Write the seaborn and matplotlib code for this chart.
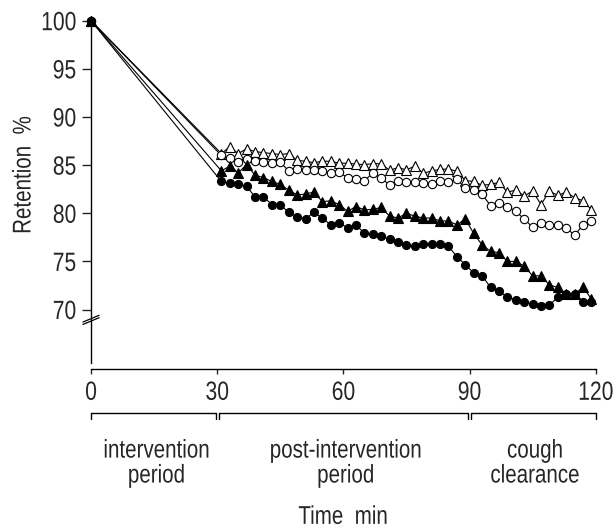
import matplotlib
matplotlib.use('Agg')
import matplotlib.pyplot as plt
from matplotlib.patheffects import AbstractPathEffect
from matplotlib.transforms import Affine2D
import seaborn as sns

# Time points (min) and retention (%) for the four groups
minutes = [0] + list(range(31, 121, 2))

open_triangles = [100, 86.2, 86.9, 86.2, 86.7, 86.4, 86.3, 86.2, 86.1, 86.2, 85.5,
                  85.4, 85.25, 85.4, 85.4, 85.2, 85.2, 85.1, 85.05, 85.15, 85.15,
                  84.45, 84.75, 84.5, 84.9, 84.15, 84.4, 84.55, 84.6, 84.35, 83.4,
                  83.3, 82.9, 83.0, 83.2, 82.2, 82.4, 81.8, 82.3, 80.9, 82.3,
                  81.85, 82.2, 81.6, 81.3, 80.35]
open_circles = [100, 86.0, 85.7, 85.3, 85.6, 85.4, 85.3, 85.25, 85.3, 84.4, 84.6,
                84.5, 84.5, 84.35, 84.2, 84.25, 83.7, 83.6, 83.4, 84.15, 83.7,
                82.9, 83.35, 83.25, 83.2, 83.15, 83.0, 83.4, 83.2, 83.55, 82.6,
                82.4, 81.95, 80.8, 81.05, 80.7, 80.2, 79.4, 78.55, 78.95, 78.8,
                78.8, 78.5, 77.7, 78.8, 79.15]
filled_triangles = [100, 84.4, 84.9, 84.2, 85.05, 83.95, 83.7, 83.3, 83.0, 82.4, 81.9,
                    82.0, 82.2, 81.2, 81.3, 80.9, 80.2, 80.7, 80.35, 80.4, 80.6,
                    79.7, 79.5, 80.0, 79.7, 79.5, 79.5, 79.2, 79.2, 78.8, 79.4,
                    77.9, 76.7, 76.05, 75.9, 75.0, 75.0, 74.5, 73.5, 73.5, 72.55,
                    72.3, 71.6, 71.6, 72.3, 71.1]
filled_circles = [100, 83.3, 83.1, 83.0, 82.8, 81.7, 81.7, 80.9, 80.85, 80.1, 79.6,
                  79.4, 80.1, 79.5, 78.8, 79.0, 78.5, 78.75, 77.95, 77.8, 77.6,
                  77.3, 77.0, 76.75, 76.55, 76.8, 76.85, 76.8, 76.55, 75.5, 74.65,
                  73.8, 73.5, 72.3, 71.9, 71.3, 71.0, 70.8, 70.55, 70.4, 70.45,
                  71.3, 71.6, 71.6, 70.8, 70.8]

y_ticks = [70, 75, 80, 85, 90, 95, 100]
x_ticks = [0, 30, 60, 90, 120]
periods = [(0, 30, 'intervention\nperiod'),
           (30, 90, 'post-intervention\nperiod'),
           (90, 120, 'cough\nclearance')]


# The reference uses a condensed face; squeeze the glyphs horizontally
class Squeeze(AbstractPathEffect):
    def __init__(self, sx=0.8, anchor=0.5):
        super().__init__()
        self.sx = sx
        self.anchor = anchor  # 0.5 = keep centre, 1.0 = keep right edge

    def draw_path(self, renderer, gc, tpath, affine, rgbFace=None):
        if len(tpath.vertices):
            ext = tpath.get_extents()
            px = ext.x0 + self.anchor * ext.width
            affine = Affine2D().translate(-px, 0).scale(self.sx, 1).translate(px, 0) + affine
        renderer.draw_path(gc, tpath, affine, rgbFace)


SQ = 0.8
centre_fx = [Squeeze(SQ, 0.5)]

sns.set_theme(style='white')
plt.rcParams['font.family'] = ['Liberation Sans', 'DejaVu Sans']
plt.rcParams['axes.edgecolor'] = 'black'
plt.rcParams['axes.linewidth'] = 1.0

fig = plt.figure(figsize=(6.15, 5.28), dpi=100)
ax = fig.add_axes([0.148, 0.3011, 0.8206, 0.6597])

# Draw the four series, open ones first
series = [
    (open_triangles, '^', 'white', 6.5),
    (open_circles, 'o', 'white', 6.0),
    (filled_triangles, '^', 'black', 6.5),
    (filled_circles, 'o', 'black', 5.8),
]
for values, marker, face, size in series:
    sns.lineplot(x=minutes, y=values, ax=ax, color='black', linewidth=0.8,
                 marker=marker, markersize=size, markerfacecolor=face,
                 markeredgecolor='black', markeredgewidth=0.8,
                 estimator=None, sort=False, clip_on=False)

ax.set_xlim(0, 120)
ax.set_ylim(63.82, 100)
ax.set_yticks(y_ticks)
ax.set_xticks(x_ticks)
ax.tick_params(axis='y', direction='out', length=6.5, width=1, pad=4, labelsize=19, left=True)
ax.tick_params(axis='x', direction='out', length=3.5, width=1, pad=5, labelsize=19, bottom=True)
for lbl in ax.get_yticklabels():
    lbl.set_path_effects([Squeeze(SQ, 1.0)])
for lbl in ax.get_xticklabels():
    lbl.set_path_effects(centre_fx)

sns.despine(ax=ax)
ax.spines['left'].set_bounds(64.45, 100)

# Axis break marks on the y axis
trans_y = ax.get_yaxis_transform()
for off in [0, 0.25]:
    ax.plot([-0.016, 0.016], [68.45 + off, 69.15 + off], color='black', lw=0.9,
            transform=trans_y, clip_on=False)

# Brackets for the study periods
trans_x = ax.get_xaxis_transform()
for start, end, label in periods:
    a = start + (0.4 if start > 0 else 0)
    b = end - (0.4 if end < 120 else 0)
    ax.plot([a, a, b, b], [-0.144, -0.126, -0.126, -0.144], color='black', lw=1,
            transform=trans_x, clip_on=False)
    ax.text((start + end) / 2 + 0.6, -0.27, label, transform=trans_x, ha='center',
            va='center', fontsize=18.5, linespacing=1.05, path_effects=centre_fx)

ax.set_ylabel('Retention  %', fontsize=18.5, path_effects=centre_fx)
ax.yaxis.set_label_coords(-0.11, 0.557)
ax.set_xlabel('Time  min', fontsize=18.5, path_effects=centre_fx)
ax.xaxis.set_label_coords(0.5, -0.39)

ax.set_facecolor('white')
fig.savefig('out.png', dpi=100)
